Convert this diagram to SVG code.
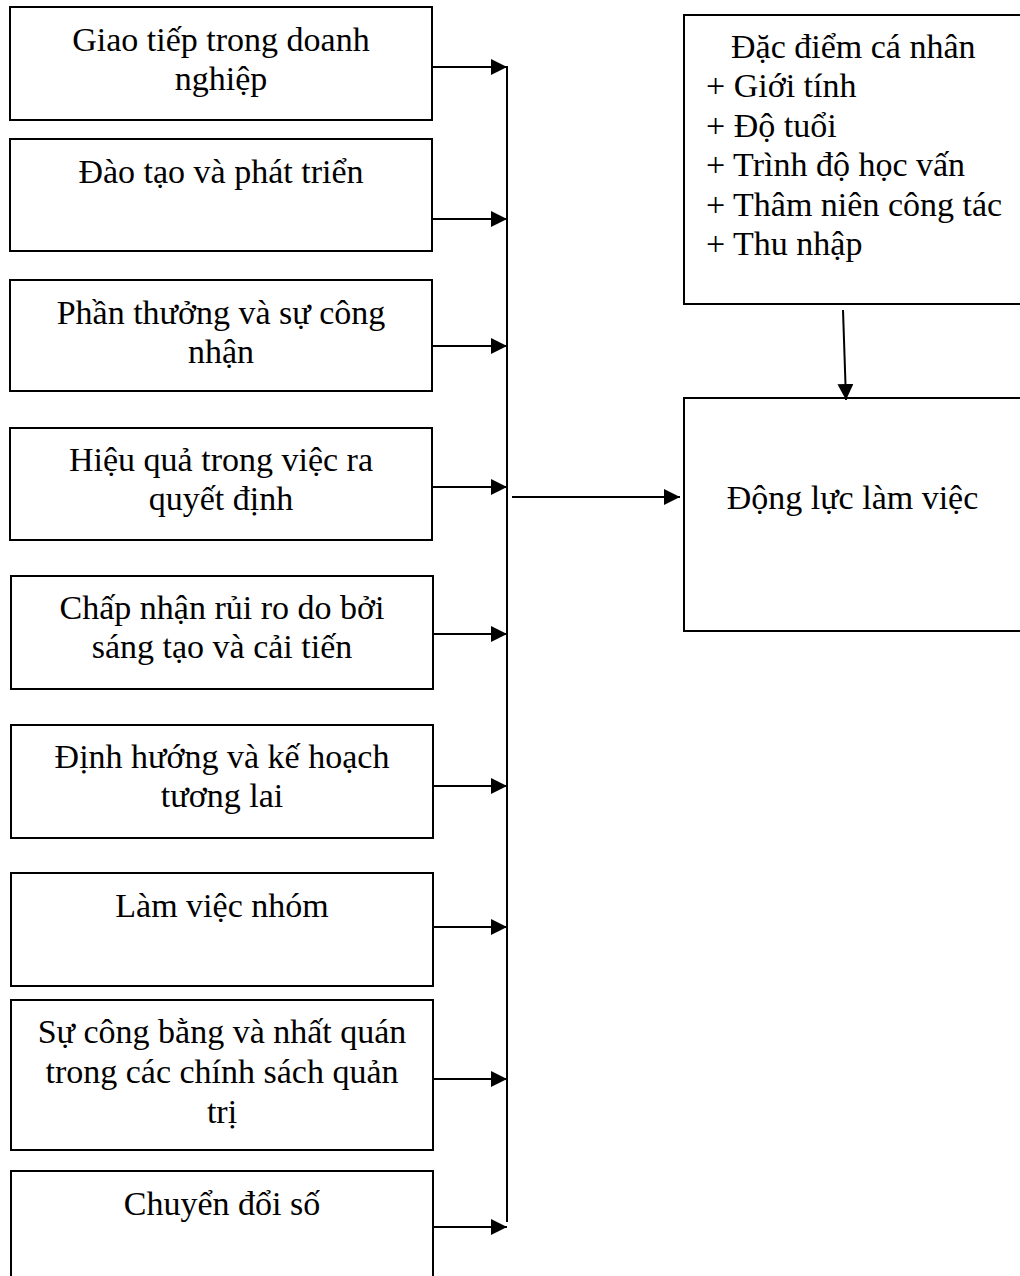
<svg xmlns="http://www.w3.org/2000/svg" width="1020" height="1276" viewBox="0 0 1020 1276">
<defs>
<marker id="ah" markerWidth="16" markerHeight="16" viewBox="0 0 16 16" refX="16" refY="8" orient="auto" markerUnits="userSpaceOnUse">
<path d="M0,0 L16,8 L0,16 Z" fill="#000"/>
</marker>
<style>
rect.box{fill:#fff;stroke:#000;stroke-width:2}
text{font-family:"Liberation Serif","Times New Roman",serif;font-size:34px;fill:#000}
.c{text-anchor:middle}
.conn line{stroke:#000;stroke-width:2}
.arr{marker-end:url(#ah)}
</style>
</defs>
<rect width="1020" height="1276" fill="#fff"/>
<g id="n1"><rect class="box" x="10" y="7" width="422" height="113"/><text class="c" x="221" y="50.5">Giao tiếp trong doanh</text><text class="c" x="221" y="90">nghiệp</text></g>
<g id="n2"><rect class="box" x="10" y="139" width="422" height="112"/><text class="c" x="221" y="182.5">Đào tạo và phát triển</text></g>
<g id="n3"><rect class="box" x="10" y="280" width="422" height="111"/><text class="c" x="221" y="323.5">Phần thưởng và sự công</text><text class="c" x="221" y="363">nhận</text></g>
<g id="n4"><rect class="box" x="10" y="428" width="422" height="112"/><text class="c" x="221" y="470.5">Hiệu quả trong việc ra</text><text class="c" x="221" y="510">quyết định</text></g>
<g id="n5"><rect class="box" x="11" y="576" width="422" height="113"/><text class="c" x="222" y="618.5">Chấp nhận rủi ro do bởi</text><text class="c" x="222" y="658">sáng tạo và cải tiến</text></g>
<g id="n6"><rect class="box" x="11" y="725" width="422" height="113"/><text class="c" x="222" y="767.5">Định hướng và kế hoạch</text><text class="c" x="222" y="807">tương lai</text></g>
<g id="n7"><rect class="box" x="11" y="873" width="422" height="113"/><text class="c" x="222" y="916.5">Làm việc nhóm</text></g>
<g id="n8"><rect class="box" x="11" y="1000" width="422" height="150"/><text class="c" x="222" y="1042.5">Sự công bằng và nhất quán</text><text class="c" x="222" y="1082.5">trong các chính sách quản</text><text class="c" x="222" y="1122.5">trị</text></g>
<g id="n9"><rect class="box" x="11" y="1171" width="422" height="130"/><text class="c" x="222" y="1214.5">Chuyển đổi số</text></g>
<g id="n10"><rect class="box" x="684" y="15" width="340" height="289"/><text x="731" y="57.5">Đặc điểm cá nhân</text><text x="706" y="97">+ Giới tính</text><text x="706" y="136.5">+ Độ tuổi</text><text x="706" y="176">+ Trình độ học vấn</text><text x="706" y="215.5">+ Thâm niên công tác</text><text x="706" y="255">+ Thu nhập</text></g>
<g id="n11"><rect class="box" x="684" y="398" width="340" height="233"/><text class="c" x="852.5" y="508.5">Động lực làm việc</text></g>
<g class="conn" id="connectors">
<line x1="507" y1="66" x2="507" y2="1222"/>
<line class="arr" x1="432" y1="67" x2="507" y2="67"/>
<line class="arr" x1="432" y1="219" x2="507" y2="219"/>
<line class="arr" x1="432" y1="346" x2="507" y2="346"/>
<line class="arr" x1="432" y1="487" x2="507" y2="487"/>
<line class="arr" x1="433" y1="634" x2="507" y2="634"/>
<line class="arr" x1="433" y1="786" x2="507" y2="786"/>
<line class="arr" x1="433" y1="927" x2="507" y2="927"/>
<line class="arr" x1="433" y1="1079" x2="507" y2="1079"/>
<line class="arr" x1="433" y1="1227" x2="507" y2="1227"/>
<line class="arr" x1="512" y1="497" x2="680" y2="497"/>
<line class="arr" x1="843" y1="310" x2="846" y2="400"/>
</g>
</svg>
